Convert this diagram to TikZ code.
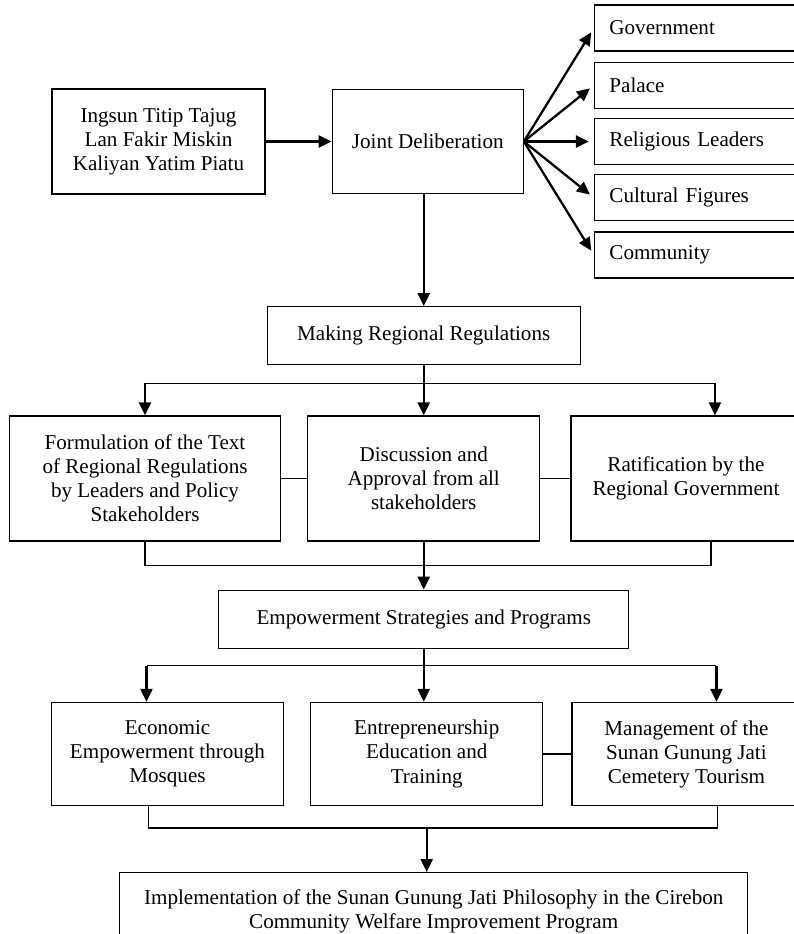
\documentclass[tikz,border=0pt]{standalone}
\usepackage{fontspec}
\setmainfont{Liberation Serif}
\usetikzlibrary{positioning,calc}
\usetikzlibrary{arrows.meta}

\begin{document}
\begin{tikzpicture}[
		font=\fontsize{12}{13.7}\selectfont,
		>={Triangle[length=0.26cm,width=0.24cm]},
		box/.style={draw, line width=0.7pt, align=center},
		party/.style={draw, line width=0.7pt, minimum height=0.92cm, text width=3.56cm, inner xsep=0.3cm, align=left},
		arr/.style={->, line width=1.3pt},
		ln/.style={line width=0.7pt}]
		\useasboundingbox (0,0) rectangle (15.88,-18.68);
		\clip (0,0) rectangle (15.88,-18.68);
		
		%philosophy and deliberation
		\node (titip) [box, minimum width=4.26cm, minimum height=2.1cm] at (3.17,-2.83) {Ingsun Titip Tajug\\Lan Fakir Miskin\\Kaliyan Yatim Piatu};
		\node (joint) [box, minimum width=3.82cm, minimum height=2.08cm, right = 1.32cm of titip] {Joint Deliberation};
		\draw[arr] (titip) -- (joint);
		
		%stakeholders
		\node (relig) [party, right = 1.4cm of joint] {Religious Leaders};
		\node (palace) [party, above = 0.18cm of relig] {Palace};
		\node (gov) [party, above = 0.2cm of palace] {Government};
		\node (cult) [party, below = 0.18cm of relig] {Cultural Figures};
		\node (comm) [party, below = 0.2cm of cult] {Community};
		
		\draw[arr, shorten >=0.1cm] (joint.east) -- (gov.west);
		\draw[arr, shorten >=0.1cm] (joint.east) -- (palace.west);
		\draw[arr, shorten >=0.1cm] (joint.east) -- (relig.west);
		\draw[arr, shorten >=0.1cm] (joint.east) -- (cult.west);
		\draw[arr, shorten >=0.1cm] (joint.east) -- (comm.west);
		
		%regional regulations
		\node (making) [box, minimum width=6.26cm, minimum height=1.16cm, below = 2.24cm of joint, xshift=-0.08cm] {Making Regional Regulations};
		\draw[arr] (making |- joint.south) -- (making);
		
		\node (disc) [box, minimum width=4.64cm, minimum height=2.5cm, below = 1.0cm of making] {Discussion and\\Approval from all\\stakeholders};
		\node (form) [box, minimum width=5.42cm, minimum height=2.5cm, left = 0.52cm of disc] {Formulation of the Text\\of Regional Regulations\\by Leaders and Policy\\Stakeholders};
		\node (ratif) [box, minimum width=4.6cm, minimum height=2.5cm, right = 0.6cm of disc] {Ratification by the\\Regional Government};
		
		\coordinate [below = 0.36cm of making] (rg0);
		\coordinate [right = 0.58cm of ratif.north] (rt);
		\draw[arr] (making) -- (disc);
		\draw[ln] (form |- rg0) -- (rt |- rg0);
		\draw[arr] (form |- rg0) -- (form);
		\draw[arr] (rt |- rg0) -- (rt);
		
		\draw[ln] (form) -- (disc);
		\draw[ln] (disc) -- (ratif);
		
		%join
		\coordinate [below = 0.48cm of form] (bk1);
		\coordinate [right = 0.5cm of ratif.south] (rb);
		\draw[ln] (form) -- (bk1) -- (bk1 -| rb) -- (rb);
		
		%empowerment
		\node (empower) [box, minimum width=8.2cm, minimum height=1.16cm, below = 0.96cm of disc] {Empowerment Strategies and Programs};
		\draw[arr] (disc) -- (empower);
		
		\node (entre) [box, minimum width=4.64cm, minimum height=2.06cm, below = 1.06cm of empower, xshift=0.06cm] {Entrepreneurship\\Education and\\Training};
		\node (econ) [box, minimum width=4.64cm, minimum height=2.06cm, left = 0.52cm of entre] {Economic\\Empowerment through\\Mosques};
		\node (manag) [box, minimum width=4.58cm, minimum height=2.06cm, right = 0.56cm of entre] {Management of the\\Sunan Gunung Jati\\Cemetery Tourism};
		
		\coordinate [below = 0.34cm of empower] (pg0);
		\coordinate [left = 0.42cm of econ.north] (el);
		\coordinate [right = 0.6cm of manag.north] (mr);
		\draw[ln] (el |- pg0) -- (mr |- pg0);
		\draw[arr] (empower) -- (empower |- entre.north);
		\draw[arr] (el |- pg0) -- (el);
		\draw[arr] (mr |- pg0) -- (mr);
		\draw[ln] (entre) -- (manag);
		
		%implementation
		\coordinate [below = 0.44cm of econ] (bm0);
		\coordinate [left = 0.38cm of econ.south] (eb);
		\coordinate [right = 0.62cm of manag.south] (mb);
		\draw[ln] (eb) -- (eb |- bm0) -- (mb |- bm0) -- (mb);
		
		\node (final) [box, minimum width=12.56cm, minimum height=1.56cm, below = 1.32cm of entre, xshift=0.14cm] {Implementation of the Sunan Gunung Jati Philosophy in the Cirebon\\Community Welfare Improvement Program};
		\draw[arr] (entre |- bm0) -- (entre |- final.north);
\end{tikzpicture}
\end{document}
